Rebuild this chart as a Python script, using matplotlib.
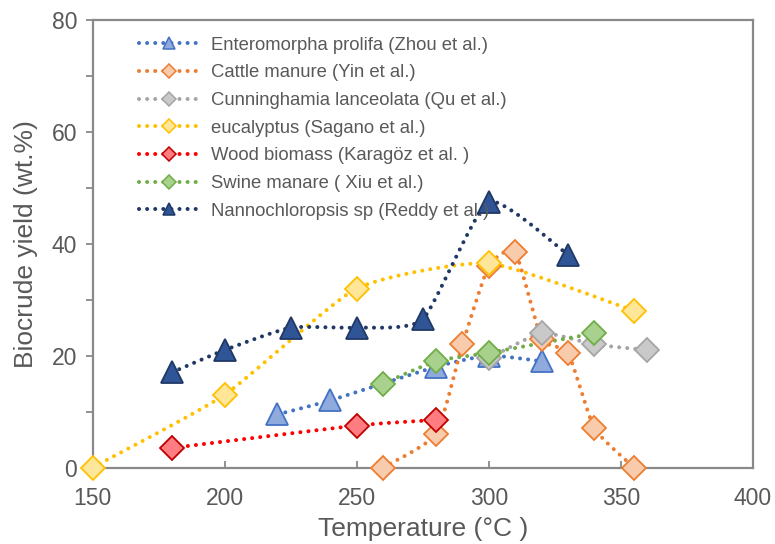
import numpy as np
import matplotlib
matplotlib.use("Agg")
import matplotlib.pyplot as plt
from matplotlib.lines import Line2D

plt.rcParams['font.family'] = ['Liberation Sans', 'DejaVu Sans']

# Biocrude yield vs. HTL temperature for several feedstocks
enteromorpha_t = [220, 240, 280, 300, 320]
enteromorpha_y = [9.5, 12, 18, 20, 19]

cattle_t = [260, 280, 290, 300, 310, 320, 330, 340, 355]
cattle_y = [0, 6, 22, 36, 38.5, 23, 20.5, 7, 0]

cunninghamia_t = [300, 320, 340, 360]
cunninghamia_y = [19.5, 24, 22, 21]

eucalyptus_t = [150, 200, 250, 300, 355]
eucalyptus_y = [0, 13, 32, 36.5, 28]

wood_t = [180, 250, 280]
wood_y = [3.5, 7.5, 8.5]

swine_t = [260, 280, 300, 340]
swine_y = [15, 19, 20.5, 24]

nanno_t = [180, 200, 225, 250, 275, 300, 330]
nanno_y = [17, 21, 25, 25, 26.5, 47.5, 38]

labels = [
    "Enteromorpha prolifa (Zhou et al.)",
    "Cattle manure (Yin et al.)",
    "Cunninghamia lanceolata (Qu et al.)",
    "eucalyptus (Sagano et al.)",
    "Wood biomass (Karagöz et al. )",
    "Swine manare ( Xiu et al.)",
    "Nannochloropsis sp (Reddy et al.)",
]

series = [
    (enteromorpha_t, enteromorpha_y, '^', '#4472C4', '#8FAADC', '#4472C4'),
    (cattle_t, cattle_y, 'D', '#ED7D31', '#F8CBAD', '#ED7D31'),
    (cunninghamia_t, cunninghamia_y, 'D', '#A5A5A5', '#C9C9C9', '#A5A5A5'),
    (eucalyptus_t, eucalyptus_y, 'D', '#FFC000', '#FFE699', '#FFC000'),
    (wood_t, wood_y, 'D', '#FF0000', '#FF7C80', '#C00000'),
    (swine_t, swine_y, 'D', '#70AD47', '#A9D18E', '#70AD47'),
    (nanno_t, nanno_y, '^', '#203864', '#2F5597', '#203864'),
]


def smooth(xs, ys, n=30, k=0.55):
    """Cardinal-spline curve through the points, like a smoothed spreadsheet line."""
    x = np.asarray(xs, float)
    y = np.asarray(ys, float)
    if len(x) < 3:
        return x, y
    px = np.concatenate([[x[0]], x, [x[-1]]])
    py = np.concatenate([[y[0]], y, [y[-1]]])
    ox, oy = [], []
    t = np.linspace(0, 1, n)
    for i in range(1, len(px) - 2):
        p0x, p1x, p2x, p3x = px[i - 1], px[i], px[i + 1], px[i + 2]
        p0y, p1y, p2y, p3y = py[i - 1], py[i], py[i + 1], py[i + 2]
        c1x = p1x + k * (p2x - p0x) / 6
        c1y = p1y + k * (p2y - p0y) / 6
        c2x = p2x - k * (p3x - p1x) / 6
        c2y = p2y - k * (p3y - p1y) / 6
        bx = (1 - t) ** 3 * p1x + 3 * (1 - t) ** 2 * t * c1x + 3 * (1 - t) * t ** 2 * c2x + t ** 3 * p2x
        by = (1 - t) ** 3 * p1y + 3 * (1 - t) ** 2 * t * c1y + 3 * (1 - t) * t ** 2 * c2y + t ** 3 * p2y
        ox.extend(bx if i == 1 else bx[1:])
        oy.extend(by if i == 1 else by[1:])
    return np.array(ox), np.array(oy)


fig = plt.figure(figsize=(7.75, 5.44), dpi=100)
ax = fig.add_axes([0.1194, 0.1406, 0.8522, 0.8226])

dot_style = (0, (0.01, 2.0))
lw_dot = 2.9
handles = []
for (xs, ys, mk, lc, fc, ec), lab in zip(series, labels):
    sx, sy = smooth(xs, ys)
    ax.plot(sx, sy, color=lc, lw=lw_dot, linestyle=dot_style,
            dash_capstyle='round', solid_capstyle='round', zorder=2)
    ms = 16 if mk == '^' else 12.5
    ax.plot(xs, ys, linestyle='none', marker=mk, ms=ms, mfc=fc, mec=ec,
            mew=1.3, zorder=3, clip_on=False)
    handles.append(Line2D([], [], color=lc, lw=lw_dot, linestyle=dot_style,
                          dash_capstyle='round', marker=mk, ms=ms,
                          mfc=fc, mec=ec, mew=1.1))

ax.set_xlim(150, 400)
ax.set_ylim(0, 80)
ax.set_xticks(np.arange(150, 401, 50))
ax.set_yticks(np.arange(0, 81, 20))
ax.set_yticks(np.arange(10, 80, 20), minor=True)

txt = '#595959'
spine_c = '#898989'
for s in ax.spines.values():
    s.set_color(spine_c)
    s.set_linewidth(1.6)
ax.tick_params(axis='x', direction='in', length=5, width=1.3, color=spine_c,
               labelsize=16.5, labelcolor=txt, pad=14)
ax.tick_params(axis='y', which='both', direction='out', length=5, width=1.3,
               color=spine_c, labelsize=16.5, labelcolor=txt, pad=6)
ax.tick_params(axis='x', top=False)

ax.set_xlabel("Temperature (°C )", fontsize=19, color=txt, labelpad=5)
ax.set_ylabel("Biocrude yield (wt.%)", fontsize=19, color=txt, labelpad=10)

leg = ax.legend(handles, labels, loc='upper left', bbox_to_anchor=(0.045, 1.0),
                frameon=False, fontsize=13.3, labelcolor=txt, markerscale=0.55,
                handlelength=3.3, handletextpad=0.6, labelspacing=0.58,
                borderaxespad=0.5)

fig.savefig("out.png", dpi=100)
